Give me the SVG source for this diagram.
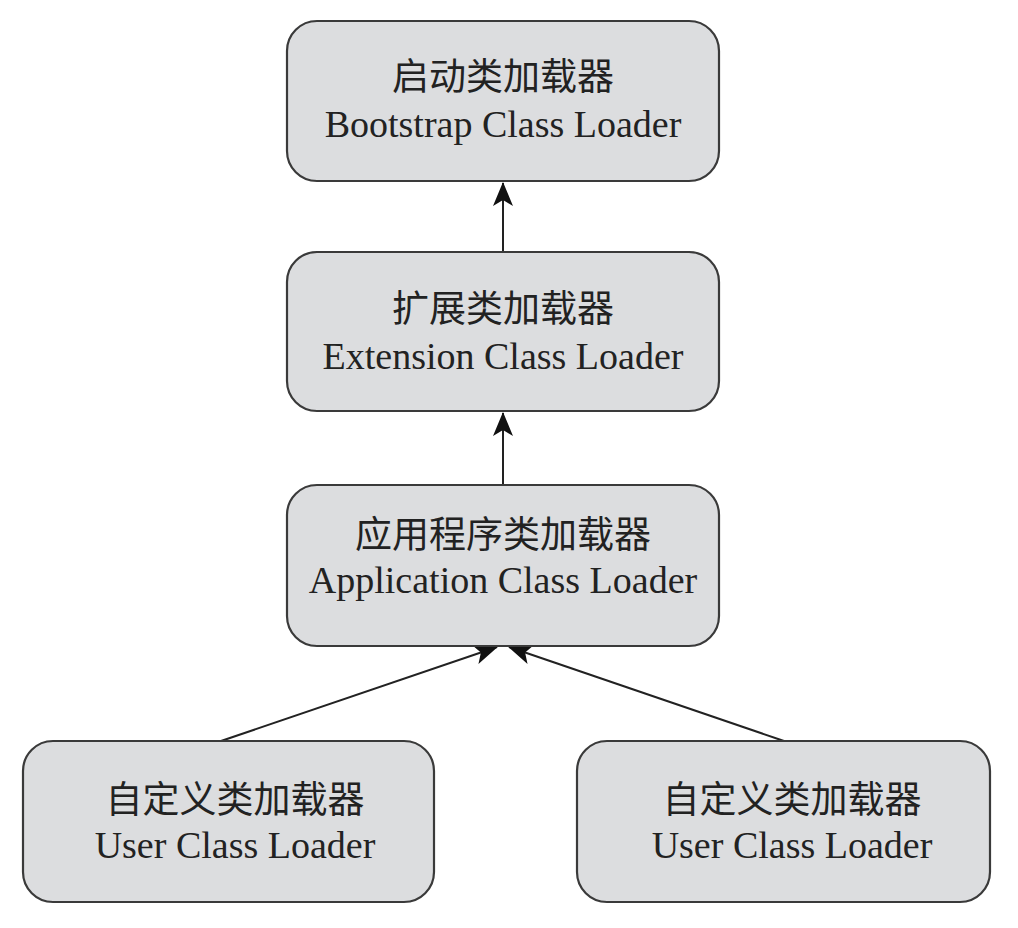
<svg xmlns="http://www.w3.org/2000/svg" width="1018" height="928" viewBox="0 0 1018 928">
<style>
.box{fill:#dcdddf;stroke:#3a3a3a;stroke-width:2.2}
.zh{font-family:"Noto Sans CJK SC","Liberation Serif",sans-serif;font-size:37px;fill:#222;text-anchor:middle}
.en{font-family:"Liberation Serif",serif;font-size:38px;fill:#222;text-anchor:middle}
.edge{stroke:#222;stroke-width:2;fill:none;marker-end:url(#ah)}
</style>
<defs>
<marker id="ah" viewBox="0 0 24 20" refX="23" refY="10" markerWidth="24" markerHeight="20" markerUnits="userSpaceOnUse" orient="auto">
<path d="M0,0 L24,10 L0,20 L6,10 Z" fill="#111"/>
</marker>
</defs>
<rect width="1018" height="928" fill="#ffffff"/>
<g id="connectors">
<line class="edge" x1="503" y1="252" x2="503" y2="183"/>
<line class="edge" x1="503" y1="485" x2="503" y2="413"/>
<line class="edge" x1="221" y1="741" x2="497" y2="647"/>
<line class="edge" x1="784" y1="741" x2="509" y2="647"/>
</g>
<g id="bootstrap">
<rect class="box" x="287" y="21" width="432" height="160" rx="30"/>
<text class="zh" x="503" y="90">启动类加载器</text>
<text class="en" x="503" y="137">Bootstrap Class Loader</text>
</g>
<g id="extension">
<rect class="box" x="287" y="252" width="432" height="159" rx="30"/>
<text class="zh" x="503" y="322">扩展类加载器</text>
<text class="en" x="503" y="369">Extension Class Loader</text>
</g>
<g id="application">
<rect class="box" x="287" y="485" width="432" height="161" rx="30"/>
<text class="zh" x="503" y="548">应用程序类加载器</text>
<text class="en" x="503" y="593">Application Class Loader</text>
</g>
<g id="user1">
<rect class="box" x="23" y="741" width="411" height="161" rx="30"/>
<text class="zh" x="235" y="813">自定义类加载器</text>
<text class="en" x="235" y="858">User Class Loader</text>
</g>
<g id="user2">
<rect class="box" x="577" y="741" width="413" height="161" rx="30"/>
<text class="zh" x="792" y="813">自定义类加载器</text>
<text class="en" x="792" y="858">User Class Loader</text>
</g>
</svg>
